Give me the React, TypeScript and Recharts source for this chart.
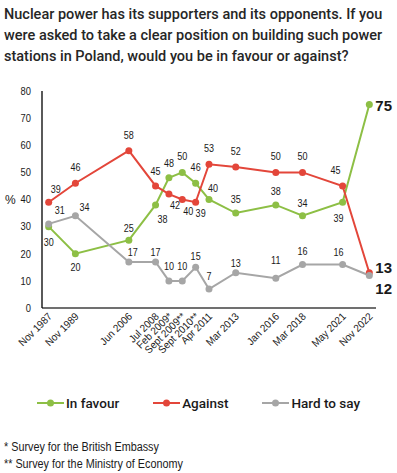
import { LineChart, Line, XAxis, YAxis, LabelList, Legend } from "recharts";

// survey dates (asterisks refer to the footnotes)
const dates = [
  "Nov 1987", "Nov 1989", "Jun 2006", "Jul 2008", "Feb 2009*", "Sept 2009**",
  "Sept 2010**", "Apr 2011", "Mar 2013", "Jan 2016", "Mar 2018", "May 2021", "Nov 2022",
];
// spacing of the surveys along the axis, as in the original
const slots = [0, 2, 6, 8, 9, 10, 11, 12, 14, 17, 19, 22, 24];

const inFavour = [30, 20, 25, 38, 48, 50, 46, 40, 35, 38, 34, 39, 75];
const against = [39, 46, 58, 45, 42, 40, 39, 53, 52, 50, 50, 45, 13];
const hardToSay = [31, 34, 17, 17, 10, 10, 15, 7, 13, 11, 16, 16, 12];

const yTicks = [0, 10, 20, 30, 40, 50, 60, 70, 80];

// where each value label sits relative to its point
const favourShift = [[0, 16], [0, 13], [0, -12], [7, 14], [0, -15], [0, -16], [0, -16], [4, -11], [0, -14], [0, -14], [0, -13], [-4, 16], [6, 1]];
const againstShift = [[7, -13], [0, -16], [0, -16], [0, -15], [6, 11], [6, 12], [5, 11], [0, -16], [0, -16], [0, -16], [0, -16], [-7, -16], [6, -5]];
const hardShift = [[11, -14], [9, -9], [4, -10], [0, -10], [0, -15], [0, -15], [0, -11], [0, -13], [0, -10], [0, -18], [0, -13], [-4, -12], [6, 13]];

const GREEN = "#8dbf45";
const RED = "#e3463a";
const GRAY = "#a6a6a6";
const SANS = '"Liberation Sans", Arial, sans-serif';
const INK = "#1a1a1a";

const rows = slots.map((slot, i) => ({
  slot,
  favour: inFavour[i],
  against: against[i],
  hard: hardToSay[i],
}));

// Arial squeezed horizontally, stands in for Arial Narrow
const makeLabel = (shift: number[][]) => (props: any) => {
  const { x, y, value, index } = props;
  const [dx, dy] = shift[index];
  const last = index === dates.length - 1;
  if (last) {
    return (
      <text x={x + dx} y={y + dy} textAnchor="start" dominantBaseline="central" fontSize={15} fontWeight={700} fontFamily={SANS} fill={INK}>
        {value}
      </text>
    );
  }
  return (
    <text
      transform={`translate(${x + dx}, ${y + dy}) scale(0.82, 1)`}
      textAnchor="middle"
      dominantBaseline="central"
      fontSize={11}
      fontFamily={SANS}
      fill={INK}
    >
      {value}
    </text>
  );
};

const DateTick = (props: any) => {
  const { x, y, payload } = props;
  const i = slots.indexOf(payload.value);
  return (
    <text
      transform={`translate(${x + 4}, ${y + 9}) rotate(-45) scale(0.94, 1)`}
      textAnchor="end"
      fontSize={10.5}
      fontFamily={SANS}
      fill={INK}
    >
      {dates[i]}
    </text>
  );
};

const ValueTick = (props: any) => {
  const { x, y, payload } = props;
  return (
    <text transform={`translate(${x}, ${y}) scale(0.85, 1)`} textAnchor="end" dominantBaseline="central" fontSize={11} fontFamily={SANS} fill={INK}>
      {payload.value}
    </text>
  );
};

const legendItems = [
  { label: "In favour", color: GREEN },
  { label: "Against", color: RED },
  { label: "Hard to say", color: GRAY },
];

const LegendBox = () => (
  <div style={{ display: "flex", justifyContent: "center", alignItems: "center", height: 30, fontFamily: "Roboto, sans-serif", fontWeight: 500, fontSize: 13.5, color: INK }}>
    {legendItems.map((it, i) => (
      <div key={it.label} style={{ display: "flex", alignItems: "center", marginRight: i < 2 ? 34 : 0 }}>
        <svg width={27} height={10} style={{ marginRight: 2 }}>
          <line x1={0} y1={5} x2={27} y2={5} stroke={it.color} strokeWidth={2} />
          <circle cx={13.5} cy={5} r={3.5} fill={it.color} />
        </svg>
        <span>{it.label}</span>
      </div>
    ))}
  </div>
);

export default function App() {
  return (
    <div style={{ position: "absolute", left: 0, top: 0, width: 397, height: 473, background: "#fff", fontFamily: "Roboto, sans-serif", overflow: "hidden" }}>
      <div style={{ position: "absolute", left: 4, top: 4, width: 393, fontSize: 14.5, fontWeight: 500, lineHeight: "21px", color: "#262626" }}>
        Nuclear power has its supporters and its opponents. If you were asked to take a clear position on building such power stations in Poland, would you be in favour or against?
      </div>
      <div style={{ position: "absolute", left: 0, top: 80 }}>
        <LineChart width={397} height={340} data={rows} margin={{ top: 11, right: 21, left: 0, bottom: 2 }}>
          <XAxis
            dataKey="slot"
            type="number"
            domain={[-0.5, 24.5]}
            ticks={slots}
            interval={0}
            tick={<DateTick />}
            tickLine={false}
            tickSize={0}
            tickMargin={0}
            height={80}
            axisLine={{ stroke: "#404040", strokeWidth: 1.5 }}
          />
          <YAxis
            domain={[0, 80]}
            ticks={yTicks}
            width={42}
            tickLine={false}
            tickSize={6}
            tickMargin={5}
            axisLine={{ stroke: "#000", strokeWidth: 1.3 }}
            tick={<ValueTick />}
            label={{ value: "%", position: "insideLeft", offset: 5, fontSize: 12, fontFamily: SANS, fill: INK }}
          />
          <Legend verticalAlign="bottom" height={30} wrapperStyle={{ left: 0, width: 397 }} content={() => <LegendBox />} />
          <Line dataKey="favour" stroke={GREEN} strokeWidth={2} dot={{ r: 3.5, fill: GREEN, stroke: GREEN, strokeWidth: 0 }} isAnimationActive={false}>
            <LabelList dataKey="favour" content={makeLabel(favourShift)} />
          </Line>
          <Line dataKey="against" stroke={RED} strokeWidth={2} dot={{ r: 3.5, fill: RED, stroke: RED, strokeWidth: 0 }} isAnimationActive={false}>
            <LabelList dataKey="against" content={makeLabel(againstShift)} />
          </Line>
          <Line dataKey="hard" stroke={GRAY} strokeWidth={2} dot={{ r: 3.5, fill: GRAY, stroke: GRAY, strokeWidth: 0 }} isAnimationActive={false}>
            <LabelList dataKey="hard" content={makeLabel(hardShift)} />
          </Line>
        </LineChart>
      </div>
      <div style={{ position: "absolute", left: 4, top: 439, fontSize: 12, fontFamily: SANS, color: INK, lineHeight: "17px", transform: "scaleX(0.9)", transformOrigin: "left top", whiteSpace: "nowrap" }}>
        <div>* Survey for the British Embassy</div>
        <div>** Survey for the Ministry of Economy</div>
      </div>
    </div>
  );
}
